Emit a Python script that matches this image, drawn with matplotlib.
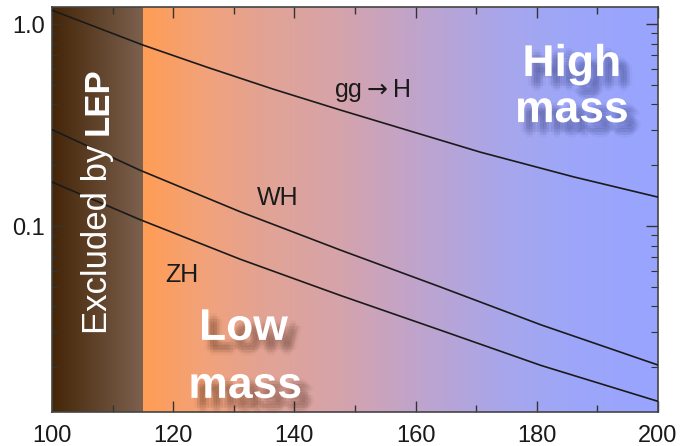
import numpy as np
import matplotlib
matplotlib.use("Agg")
import matplotlib.pyplot as plt
import matplotlib.patheffects as pe
from matplotlib.colors import to_rgb
from matplotlib.ticker import FixedLocator, NullFormatter, LogLocator

plt.rcParams['font.family'] = ['Liberation Sans', 'DejaVu Sans']
plt.rcParams['mathtext.fontset'] = 'dejavusans'

# Higgs production cross sections
mass_ggH = [100, 115, 125.6, 136.5, 147.6, 170.7, 186.1, 200]
xsec_ggH = [1.17, 0.787, 0.611, 0.476, 0.375, 0.232, 0.175, 0.139]

mass_VH = [100, 114.5, 131.1, 147.6, 164.1, 180.7, 200]
xsec_WH = [0.30, 0.189, 0.1175, 0.076, 0.0499, 0.0324, 0.0205]
xsec_ZH = [0.165, 0.1076, 0.0684, 0.0453, 0.0305, 0.0204, 0.01355]

lep_limit = 115
x_ticks = [100, 120, 140, 160, 180, 200]
y_ticks = [0.1, 1.0]
y_tick_labels = ["0.1", "1.0"]

# background gradient stops (mass, colour); the jump at the LEP limit is intended
bg_stops = [(100, "#452608"), (lep_limit - 0.01, "#7c614f"),
            (lep_limit, "#ff9d55"), (125, "#f2a27a"), (135, "#e2a394"), (147, "#d6a3aa"),
            (160, "#c0a4cc"), (175, "#a7a6ec"), (185, "#9da6f8"), (200, "#98a4ff")]


def gradient(stops, n=1200):
    xs = np.linspace(stops[0][0], stops[-1][0], n)
    pos = [s[0] for s in stops]
    cols = np.array([to_rgb(s[1]) for s in stops])
    rgb = np.stack([np.interp(xs, pos, cols[:, k]) for k in range(3)], axis=-1)
    return rgb[np.newaxis, :, :]


def blur_shadow(dx, dy, color, alpha, r=4.0, n=5):
    effects = []
    for i in np.linspace(-r, r, n):
        for j in np.linspace(-r, r, n):
            if i * i + j * j > r * r * 1.1:
                continue
            effects.append(pe.SimplePatchShadow(offset=(dx + i, dy + j),
                                                shadow_rgbFace=color, alpha=alpha))
    effects.append(pe.Normal())
    return effects


fig = plt.figure(figsize=(6.8, 4.46), dpi=100)
ax = fig.add_axes([52 / 680, 1 - 412 / 446, 606 / 680, 405 / 446])
ax.set_yscale('log')

xa = ax.get_xaxis_transform()
ax.imshow(gradient(bg_stops), extent=(100, 200, 0, 1), transform=xa,
          aspect='auto', interpolation='nearest', zorder=0)
ax.set_xlim(100, 200)
ax.set_ylim(0.0120, 1.214)

for m, s in [(mass_ggH, xsec_ggH), (mass_VH, xsec_WH), (mass_VH, xsec_ZH)]:
    ax.plot(m, s, color='#1a1a1a', lw=1.2, zorder=3, solid_joinstyle='round')

ax.text(152.9, 0.47, r"gg$\rightarrow$H", fontsize=18, ha='center', va='center', color='#1a1a1a', zorder=4)
ax.text(137.2, 0.137, "WH", fontsize=18, ha='center', va='center', color='#1a1a1a', zorder=4)
ax.text(121.5, 0.057, "ZH", fontsize=18, ha='center', va='center', color='#1a1a1a', zorder=4)

# rotated LEP label
ax.text(109.1, 0.2518, "Excluded by", fontsize=25, color='white', rotation=90,
        rotation_mode='anchor', ha='right', va='baseline', zorder=4)
ax.text(109.1, 0.282, "LEP", fontsize=25, color='white', fontweight='bold', rotation=90,
        rotation_mode='anchor', ha='left', va='baseline', zorder=4)

low_fx = blur_shadow(6, -7, '#3a2010', 0.045)
ax.text(131.6, 0.0273, "Low", fontsize=32, fontweight='bold', color='white',
        ha='center', va='baseline', path_effects=low_fx, zorder=5)
ax.text(131.9, 0.0141, "mass", fontsize=32, fontweight='bold', color='white',
        ha='center', va='baseline', path_effects=low_fx, zorder=5)

high_fx = blur_shadow(6, -7, '#202860', 0.045)
ax.text(185.8, 0.553, "High", fontsize=32, fontweight='bold', color='white',
        ha='center', va='baseline', path_effects=high_fx, zorder=5)
ax.text(185.8, 0.327, "mass", fontsize=32, fontweight='bold', color='white',
        ha='center', va='baseline', path_effects=high_fx, zorder=5)

ax.set_xticks(x_ticks)
ax.set_xticklabels([str(t) for t in x_ticks])
ax.xaxis.set_minor_locator(FixedLocator(np.arange(110, 200, 20)))
ax.yaxis.set_major_locator(FixedLocator(y_ticks))
ax.set_yticklabels(y_tick_labels)
ax.yaxis.set_minor_locator(LogLocator(base=10, subs=np.arange(2, 10)))
ax.yaxis.set_minor_formatter(NullFormatter())

ax.tick_params(which='both', direction='in', top=True, right=True,
               color='#333333', labelsize=17, labelcolor='#1a1a1a')
ax.tick_params(axis='x', which='major', length=8, width=1, pad=9)
ax.tick_params(axis='x', which='minor', length=5, width=1)
ax.tick_params(axis='y', which='major', length=9, width=1, pad=5)
ax.tick_params(axis='y', which='minor', length=5, width=0.8)
for sp in ax.spines.values():
    sp.set_color('#444444')
    sp.set_linewidth(1.2)

fig.savefig("out.png", dpi=100)
